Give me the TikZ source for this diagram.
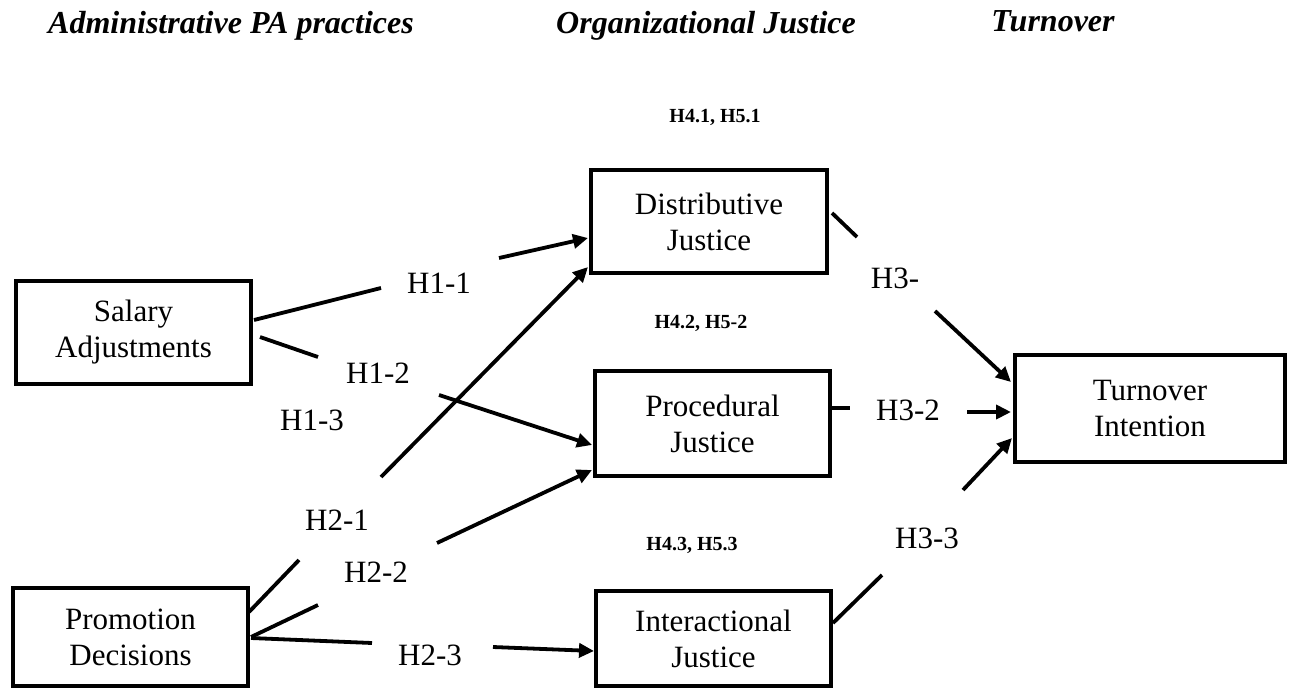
\documentclass[tikz,border=0pt]{standalone}
\usepackage{fontspec}
\setmainfont{Liberation Serif}
\usetikzlibrary{arrows.meta}
\begin{document}
\begin{tikzpicture}[x=1pt,y=-1pt,
 box/.style={draw,line width=4pt,inner sep=0pt,align=center,font=\fontsize{31}{36}\selectfont},
 hlab/.style={inner sep=0pt,font=\fontsize{31}{36}\selectfont},
 blab/.style={inner sep=0pt,font=\fontsize{20}{24}\selectfont\bfseries},
 head/.style={inner sep=0pt,anchor=base,font=\fontsize{32}{38}\selectfont\bfseries\itshape},
 conn/.style={line width=3.8pt},
 arr/.style={line width=3.8pt,-{Triangle[length=15pt,width=14pt]}}]
\useasboundingbox (0,0) rectangle (1290,691);

% headers
\node[head] (hA) at (231,33) {Administrative PA practices};
\node[head] (hO) at (706,33) {Organizational Justice};
\node[head] (hT) at (1053,31) {Turnover};

% boxes
\node[box,minimum width=235,minimum height=103] (sal) at (133.5,332.5) {Salary\\Adjustments};
\node[box,minimum width=235,minimum height=98] (pro) at (130.5,637) {Promotion\\Decisions};
\node[box,minimum width=236,minimum height=103] (dis) at (709,221.5) {Distributive\\Justice};
\node[box,minimum width=235,minimum height=105] (proc) at (712.5,423.5) {Procedural\\Justice};
\node[box,minimum width=235,minimum height=95] (int) at (713.5,638.5) {Interactional\\Justice};
\node[box,minimum width=270,minimum height=107] (tur) at (1150,408.5) {Turnover\\Intention};

% labels
\node[hlab] (h11) at (439,283) {H1-1};
\node[hlab] (h12) at (378,373) {H1-2};
\node[hlab] (h13) at (312,420) {H1-3};
\node[hlab] (h21) at (337,520) {H2-1};
\node[hlab] (h22) at (376,572) {H2-2};
\node[hlab] (h23) at (430,655) {H2-3};
\node[hlab] (h31) at (895,278) {H3-};
\node[hlab] (h32) at (908,410) {H3-2};
\node[hlab] (h33) at (927,538) {H3-3};
\node[blab] (b1) at (715,117) {H4.1, H5.1};
\node[blab] (b2) at (701,323) {H4.2, H5-2};
\node[blab] (b3) at (692,545) {H4.3, H5.3};

% connector end points
\coordinate (s11) at (254,320); \coordinate (e11) at (381,288);
\coordinate (u11) at (499,258); \coordinate (t11) at (588,238);
\coordinate (s12) at (260,337); \coordinate (e12) at (318,357);
\coordinate (u12) at (439,395); \coordinate (t12) at (592,445);
\coordinate (s21) at (249,612); \coordinate (e21) at (299,560);
\coordinate (u21) at (381,477); \coordinate (t21) at (588,267);
\coordinate (s22) at (251,637); \coordinate (e22) at (318,605);
\coordinate (u22) at (437,543); \coordinate (t22) at (592,470);
\coordinate (s23) at (251,638); \coordinate (e23) at (372,643);
\coordinate (u23) at (493,647); \coordinate (t23) at (594,651);
\coordinate (s31) at (832,213); \coordinate (e31) at (857,237);
\coordinate (u31) at (935,311); \coordinate (t31) at (1011,382);
\coordinate (s32) at (829,408); \coordinate (e32) at (850,408);
\coordinate (u32) at (967,412); \coordinate (t32) at (1011,412);
\coordinate (s33) at (833,623); \coordinate (e33) at (882,575);
\coordinate (u33) at (963,490); \coordinate (t33) at (1012,438);

\foreach \k in {11,12,21,22,23,31,32,33}{
  \draw[conn] (s\k) -- (e\k);
  \draw[arr] (u\k) -- (t\k);
}
\end{tikzpicture}
\end{document}
